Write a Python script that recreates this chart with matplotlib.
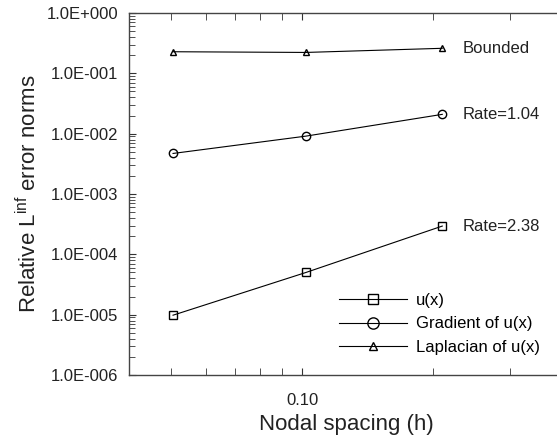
import matplotlib
matplotlib.use("Agg")
import matplotlib.pyplot as plt
from matplotlib.ticker import FixedLocator, NullFormatter, FixedFormatter

plt.rcParams['font.family'] = ['Liberation Sans', 'DejaVu Sans']

# nodal spacing values
h = [0.0505, 0.102, 0.21]
# relative L-inf error norms
err_u = [9.8e-6, 5.0e-5, 2.94e-4]
err_grad = [4.7e-3, 9.1e-3, 2.09e-2]
err_lap = [0.228, 0.222, 0.26]

notes = ["Rate=2.38", "Rate=1.04", "Bounded"]
ytick_vals = [1e-6, 1e-5, 1e-4, 1e-3, 1e-2, 1e-1, 1e0]
ytick_labels = ["1.0E-006", "1.0E-005", "1.0E-004", "1.0E-003", "1.0E-002", "1.0E-001", "1.0E+000"]

fig = plt.figure(figsize=(5.57, 4.41), dpi=100)
ax = fig.add_axes([129/557, 1-375/441, (564-129)/557, (375-13)/441])

ax.plot(h, err_u, 'k-', marker='s', mfc='none', ms=5.5, lw=0.8, mew=1.0, label='u(x)')
ax.plot(h, err_grad, 'k-', marker='o', mfc='none', ms=6, lw=0.8, mew=1.0, label='Gradient of u(x)')
ax.plot(h, err_lap, 'k-', marker='^', mfc='none', ms=4.5, lw=0.8, mew=1.0, label='Laplacian of u(x)')

ax.set_xscale('log')
ax.set_yscale('log')
ax.set_xlim(0.04, 0.4)
ax.set_ylim(1e-6, 1e0)

ax.xaxis.set_major_locator(FixedLocator([0.1]))
ax.xaxis.set_major_formatter(FixedFormatter(["0.10"]))
ax.xaxis.set_minor_locator(FixedLocator([0.05, 0.06, 0.07, 0.08, 0.09, 0.2, 0.3]))
ax.xaxis.set_minor_formatter(NullFormatter())
ax.set_yticks(ytick_vals)
ax.set_yticklabels(ytick_labels)
ax.yaxis.set_minor_formatter(NullFormatter())

ax.tick_params(which='both', direction='in', top=True, right=True, labelsize=12, colors='#333333', labelcolor='#222222', pad=8)
ax.tick_params(axis='x', which='major', pad=13)
ax.tick_params(which='major', length=5, width=0.8)
ax.tick_params(which='minor', length=4, width=0.6)
ax.tick_params(axis='x', which='minor', length=5)
for s in ax.spines.values():
    s.set_color('#444444')
    s.set_linewidth(1.0)

# annotations to the right of the last points
ax.text(0.234, err_u[-1], notes[0], fontsize=12, va='center', ha='left', color='#222222')
ax.text(0.234, err_grad[-1], notes[1], fontsize=12, va='center', ha='left', color='#222222')
ax.text(0.234, err_lap[-1], notes[2], fontsize=12, va='center', ha='left', color='#222222')

ax.set_xlabel('Nodal spacing (h)', fontsize=16, labelpad=4, color='#222222')
ax.set_ylabel(r'Relative L$^{\mathregular{inf}}$ error norms', fontsize=16, labelpad=4, color='#222222')

ax.legend(loc='upper left', bbox_to_anchor=(339/557, 1-293/441), bbox_transform=fig.transFigure,
          frameon=False, fontsize=12, handlelength=4.1, handletextpad=0.5, labelspacing=0.5,
          borderpad=0, borderaxespad=0, markerscale=1.35)

fig.savefig('out.png', dpi=100)
